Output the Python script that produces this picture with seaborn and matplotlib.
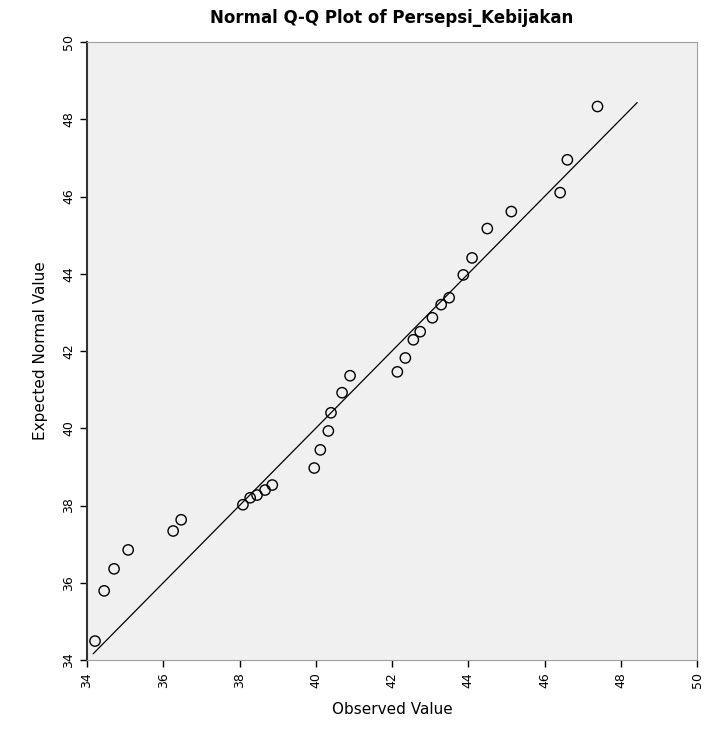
import numpy as np
import pandas as pd
import matplotlib
matplotlib.use('Agg')
import matplotlib.pyplot as plt
import seaborn as sns

observed = [34.21, 34.45, 34.71, 35.08, 36.26, 36.47, 38.09, 38.28, 38.46, 38.67,
            38.86, 39.96, 40.12, 40.33, 40.40, 40.69, 40.90, 42.14, 42.35, 42.56,
            42.74, 43.06, 43.29, 43.50, 43.87, 44.10, 44.50, 45.13, 46.41, 46.60,
            47.39]
expected = [34.49, 35.79, 36.36, 36.85, 37.34, 37.63, 38.02, 38.20, 38.27, 38.40,
            38.53, 38.97, 39.44, 39.93, 40.40, 40.92, 41.36, 41.46, 41.82, 42.29,
            42.50, 42.86, 43.20, 43.38, 43.97, 44.41, 45.17, 45.61, 46.10, 46.95,
            48.33]
# reference line ends
line_x = [34.16, 48.43]
line_y = [34.16, 48.43]
ticks = [34, 36, 38, 40, 42, 44, 46, 48, 50]

df = pd.DataFrame({'Observed Value': observed, 'Expected Normal Value': expected})

sns.set_style('white')
plt.rcParams['text.color'] = 'black'
plt.rcParams['axes.labelcolor'] = 'black'
fig = plt.figure(figsize=(7.09, 7.33), dpi=100)
ax = fig.add_axes([87/709, 73/733, 610/709, 618/733])
ax.set_facecolor('#f0f0f0')

sns.lineplot(x=line_x, y=line_y, ax=ax, color='black', linewidth=0.9)
sns.scatterplot(data=df, x='Observed Value', y='Expected Normal Value', ax=ax,
                marker='o', s=55, facecolor='none', edgecolor='black', linewidth=1.0)

ax.set_xlim(34, 50)
ax.set_ylim(34, 50)
ax.set_xticks(ticks)
ax.set_yticks(ticks)
ax.set_xticklabels(ticks, rotation=90, fontsize=9)
ax.set_yticklabels(ticks, rotation=90, fontsize=9, va='center')
ax.tick_params(axis='both', length=5, width=1, direction='out', color='black',
               labelcolor='black', bottom=True, left=True)

for side in ['top', 'right', 'bottom']:
    ax.spines[side].set_color('#a0a0a0')
ax.spines['left'].set_color('#333333')
ax.spines['left'].set_linewidth(1.5)

ax.set_xlabel('Observed Value', fontsize=11, labelpad=10)
ax.set_ylabel('Expected Normal Value', fontsize=11, labelpad=10)
ax.set_title('Normal Q-Q Plot of Persepsi_Kebijakan', fontsize=12,
             fontweight='bold', pad=14)

fig.savefig('out.png', dpi=100)
